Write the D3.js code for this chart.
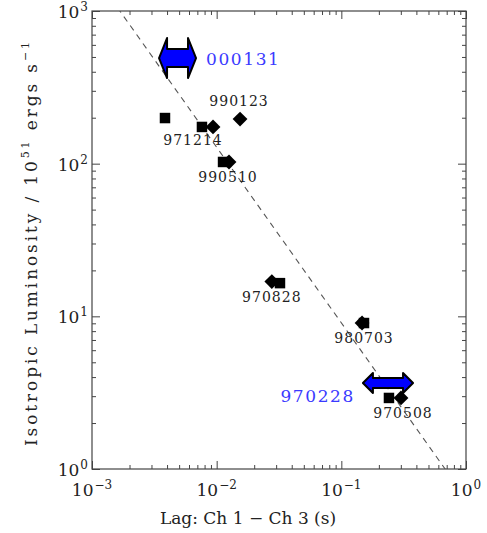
<!DOCTYPE html>
<html>
<head>
<meta charset="utf-8">
<script src="https://cdn.jsdelivr.net/npm/d3@7"></script>
<style>
  body { margin: 0; background: #fff; }
  svg text { font-family: "DejaVu Serif", serif; }
</style>
</head>
<body>
<div id="chart"></div>
<script>
// --- data ---
const xDecades = [1e-3, 1e-2, 1e-1, 1];
const yDecades = [1, 10, 100, 1000];

// lag (s) and luminosity (1e51 erg/s) for the square markers
const squareLag = [0.00385, 0.00762, 0.01125, 0.0322, 0.152, 0.241];
const squareLum = [199, 174, 102.6, 16.5, 9.04, 2.92];

// the diamond markers
const diamondLag = [0.00935, 0.0154, 0.01256, 0.0277, 0.1466, 0.301];
const diamondLum = [174, 196, 102.6, 16.9, 9.04, 2.92];

// burst names, each tied to one diamond
const burstNames = ["971214", "990123", "990510", "970828", "980703", "970508"];

// lag ranges drawn as blue double arrows
const limitNames = ["000131", "970228"];
const limitLo = [0.00345, 0.149];
const limitHi = [0.00683, 0.376];
const limitLum = [492, 3.66];

// fitted power law: L = norm * (lag / 0.01)^slope
const fitNorm = 128;
const fitSlope = -1.15;

// --- layout ---
const width = 487, height = 533;
const margin = { top: 11, right: 21, bottom: 64, left: 92 };

const svg = d3.select('#chart').append('svg')
    .attr('width', width)
    .attr('height', height);

const x = d3.scaleLog()
    .domain([1e-3, 1])
    .range([margin.left, width - margin.right]);

const y = d3.scaleLog()
    .domain([1, 1000])
    .range([height - margin.bottom, margin.top]);

const frameColor = '#444';

svg.append('clipPath').attr('id', 'plotArea')
  .append('rect')
    .attr('x', x.range()[0]).attr('y', y.range()[1])
    .attr('width', x.range()[1] - x.range()[0])
    .attr('height', y.range()[0] - y.range()[1]);

// minor ticks (2..9 inside each decade)
const xMinor = x.ticks().filter(v => !xDecades.includes(v));
const yMinor = y.ticks().filter(v => !yDecades.includes(v));

function addAxis(axis, tx, ty) {
    const g = svg.append('g')
        .attr('transform', `translate(${tx},${ty})`)
        .call(axis);
    g.select('.domain').remove();
    g.selectAll('line').attr('stroke', frameColor);
    g.selectAll('text').remove();
}

const bottomY = y.range()[0], topY = y.range()[1];
const leftX = x.range()[0], rightX = x.range()[1];

[[xDecades, 8], [xMinor, 4]].forEach(([vals, len]) => {
    addAxis(d3.axisBottom(x).tickValues(vals).tickSize(-len), 0, bottomY);
    addAxis(d3.axisTop(x).tickValues(vals).tickSize(-len), 0, topY);
});
[[yDecades, 8], [yMinor, 4]].forEach(([vals, len]) => {
    addAxis(d3.axisLeft(y).tickValues(vals).tickSize(-len), leftX, 0);
    addAxis(d3.axisRight(y).tickValues(vals).tickSize(-len), rightX, 0);
});

// frame
svg.append('rect')
    .attr('x', leftX).attr('y', topY)
    .attr('width', rightX - leftX).attr('height', bottomY - topY)
    .attr('fill', 'none')
    .attr('stroke', frameColor)
    .attr('stroke-width', 1.2);

// tick labels 10^n
function powerLabel(g, v) {
    const e = Math.round(Math.log10(v));
    g.append('tspan').text('10');
    g.append('tspan').text(e < 0 ? '\u2212' + (-e) : e)
        .attr('font-size', 12).attr('dy', -7).attr('dx', 1);
}

xDecades.forEach(v => {
    const t = svg.append('text')
        .attr('x', x(v)).attr('y', bottomY + 27)
        .attr('text-anchor', 'middle')
        .attr('font-size', 17)
        .attr('fill', '#222');
    powerLabel(t, v);
});

yDecades.forEach(v => {
    const t = svg.append('text')
        .attr('x', leftX - 4).attr('y', y(v) + 7)
        .attr('text-anchor', 'end')
        .attr('font-size', 17)
        .attr('fill', '#222');
    powerLabel(t, v);
});

// axis titles
svg.append('text')
    .attr('x', 248).attr('y', height - 9)
    .attr('text-anchor', 'middle')
    .attr('font-size', 17)
    .attr('fill', '#222')
    .text('Lag: Ch 1 \u2212 Ch 3 (s)');

const yt = svg.append('text')
    .attr('transform', `translate(37,${(topY + bottomY) / 2 + 4}) rotate(-90)`)
    .attr('text-anchor', 'middle')
    .attr('font-size', 17)
    .attr('textLength', 404)
    .attr('lengthAdjust', 'spacing')
    .attr('fill', '#222');
yt.append('tspan').text('Isotropic Luminosity / 10');
yt.append('tspan').text('51').attr('font-size', 11).attr('dy', -8);
yt.append('tspan').text(' ergs s').attr('dy', 8);
yt.append('tspan').text('\u22121').attr('font-size', 11).attr('dy', -8);

// fitted line
const fitLine = d3.line()
    .x(d => x(d))
    .y(d => y(fitNorm * Math.pow(d / 0.01, fitSlope)));

svg.append('path')
    .datum([1e-3, 1])
    .attr('d', fitLine)
    .attr('clip-path', 'url(#plotArea)')
    .attr('fill', 'none')
    .attr('stroke', '#555')
    .attr('stroke-width', 1.1)
    .attr('stroke-dasharray', '6,5');

// burst labels (pixel offsets from their diamond)
const labelOffset = {
    '971214': [-20, 18], '990123': [-1, -13], '990510': [-1, 20],
    '970828': [0, 20],   '980703': [2, 20],   '970508': [2, 20]
};

const markers = svg.append('g');

markers.selectAll('.sq')
    .data(squareLag.map((v, i) => [v, squareLum[i]]))
    .enter().append('path')
    .attr('class', 'sq')
    .attr('d', d3.symbol().type(d3.symbolSquare).size(110))
    .attr('transform', d => `translate(${x(d[0])},${y(d[1])})`)
    .attr('fill', '#000');

markers.selectAll('.dm')
    .data(diamondLag.map((v, i) => [v, diamondLum[i]]))
    .enter().append('path')
    .attr('class', 'dm')
    .attr('d', d3.symbol().type(d3.symbolSquare).size(110))
    .attr('transform', d => `translate(${x(d[0])},${y(d[1])}) rotate(45)`)
    .attr('fill', '#000');

svg.selectAll('.lbl')
    .data(burstNames.map((n, i) => ({ n, lag: diamondLag[i], lum: diamondLum[i] })))
    .enter().append('text')
    .attr('class', 'lbl')
    .attr('x', d => x(d.lag) + labelOffset[d.n][0])
    .attr('y', d => y(d.lum) + labelOffset[d.n][1])
    .attr('text-anchor', 'middle')
    .attr('font-family', '"DejaVu Sans Mono", monospace')
    .attr('font-size', 14)
    .attr('letter-spacing', 1)
    .attr('fill', '#222')
    .text(d => d.n);

// blue double arrows for the lag ranges
const arrowStyle = [
    { head: 8, headH: 20, shaftH: 9 },
    { head: 10, headH: 10, shaftH: 5 }
];

function arrowPath(lo, hi, lum, s) {
    const x0 = x(lo), x1 = x(hi), yc = y(lum);
    const p = d3.path();
    p.moveTo(x0, yc);
    p.lineTo(x0 + s.head, yc - s.headH);
    p.lineTo(x0 + s.head, yc - s.shaftH);
    p.lineTo(x1 - s.head, yc - s.shaftH);
    p.lineTo(x1 - s.head, yc - s.headH);
    p.lineTo(x1, yc);
    p.lineTo(x1 - s.head, yc + s.headH);
    p.lineTo(x1 - s.head, yc + s.shaftH);
    p.lineTo(x0 + s.head, yc + s.shaftH);
    p.lineTo(x0 + s.head, yc + s.headH);
    p.closePath();
    return p.toString();
}

svg.selectAll('.arrow')
    .data(limitNames.map((n, i) => ({ n, i })))
    .enter().append('path')
    .attr('class', 'arrow')
    .attr('d', d => arrowPath(limitLo[d.i], limitHi[d.i], limitLum[d.i], arrowStyle[d.i]))
    .attr('fill', '#0000ff')
    .attr('stroke', '#000')
    .attr('stroke-width', 2)
    .attr('stroke-linejoin', 'round');

// blue labels: first to the right of its arrow, second to the left
svg.append('text')
    .attr('x', x(limitHi[0]) + 10).attr('y', y(limitLum[0]) + 7)
    .attr('font-family', '"DejaVu Sans", sans-serif')
    .attr('font-size', 17)
    .attr('letter-spacing', 1.6)
    .attr('fill', '#3a3aff')
    .text(limitNames[0]);

svg.append('text')
    .attr('x', x(limitLo[1]) - 8).attr('y', y(limitLum[1]) + 19)
    .attr('text-anchor', 'end')
    .attr('font-family', '"DejaVu Sans", sans-serif')
    .attr('font-size', 17)
    .attr('letter-spacing', 1.6)
    .attr('fill', '#3a3aff')
    .text(limitNames[1]);
</script>
</body>
</html>
